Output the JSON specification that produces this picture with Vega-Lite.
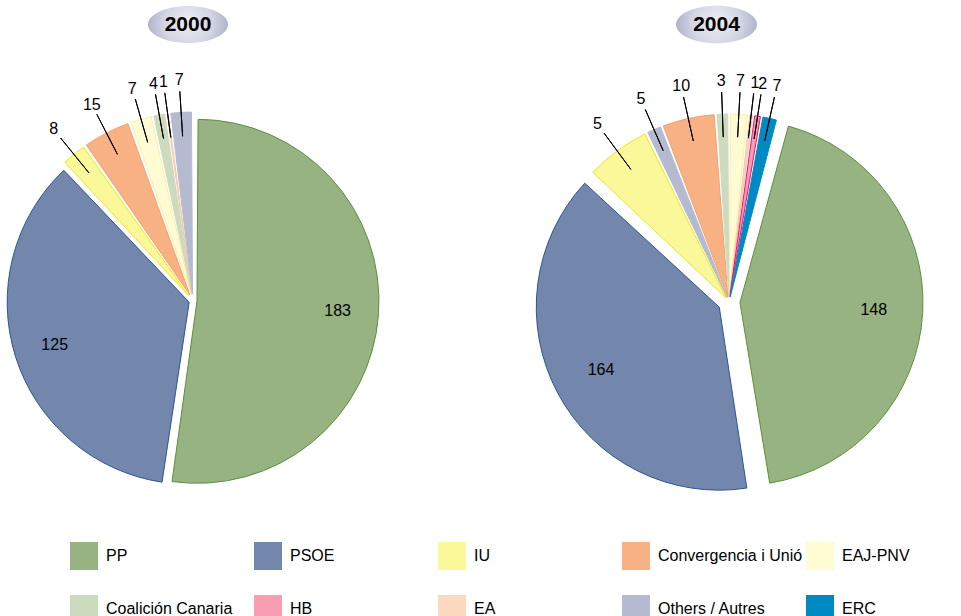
{
  "$schema": "https://vega.github.io/schema/vega-lite/v6.json",
  "padding": 0,
  "background": "white",
  "config": {"view": {"stroke": null}, "font": "Liberation Sans"},
  "datasets": {
    "y2000": [
      {"rank": 1, "party": "PP", "seats": 183},
      {"rank": 2, "party": "PSOE", "seats": 125},
      {"rank": 3, "party": "IU", "seats": 8},
      {"rank": 4, "party": "Convergencia i Unió", "seats": 15},
      {"rank": 5, "party": "EAJ-PNV", "seats": 7},
      {"rank": 6, "party": "Coalición Canaria", "seats": 4},
      {"rank": 7, "party": "EA", "seats": 1},
      {"rank": 8, "party": "Others / Autres", "seats": 7}
    ],
    "y2004": [
      {"rank": 1, "party": "EAJ-PNV", "seats": 7, "share": 6},
      {"rank": 2, "party": "EA", "seats": 1, "share": 1.5},
      {"rank": 3, "party": "HB", "seats": 2, "share": 2.5},
      {"rank": 4, "party": "ERC", "seats": 7, "share": 5},
      {"rank": 5, "party": "PP", "seats": 148, "share": 156},
      {"rank": 6, "party": "PSOE", "seats": 164, "share": 142},
      {"rank": 7, "party": "IU", "seats": 5, "share": 21},
      {"rank": 8, "party": "Others / Autres", "seats": 5, "share": 5},
      {"rank": 9, "party": "Convergencia i Unió", "seats": 10, "share": 17},
      {"rank": 10, "party": "Coalición Canaria", "seats": 3, "share": 4}
    ]
  },
  "hconcat": [
    {
      "vconcat": [
        {
          "width": 376, "height": 49,
          "data": {"values": [{"year": "2000"}]},
          "layer": [
            {"mark": {"type": "point", "shape": "M -1 0 A 1 0.4625 0 1 1 1 0 A 1 0.4625 0 1 1 -1 0 Z", "size": 6400, "filled": true, "opacity": 1, "strokeWidth": 0,
              "fill": {"gradient": "radial", "x1": 0.5, "y1": 0.45, "r1": 0, "x2": 0.5, "y2": 0.5, "r2": 0.55, "stops": [{"offset": 0, "color": "#ecedf3"}, {"offset": 0.55, "color": "#d3d5e3"}, {"offset": 1, "color": "#a6aac6"}]}}},
            {"mark": {"type": "text", "font": "Liberation Sans", "fontWeight": "bold", "fontSize": 21, "color": "black"},
              "encoding": {"text": {"field": "year"}}}
          ]
        },
        {
          "width": 386, "height": 420,
          "data": {"name": "y2000"},
          "encoding": {
            "theta": {"field": "seats", "type": "quantitative", "stack": true, "scale": {"domain": [0, 350]}},
            "order": {"field": "rank", "type": "quantitative"}
          },
          "layer": [
            {"mark": {"type": "arc", "outerRadius": 182, "padAngle": 0.012, "strokeWidth": 1,
              "xOffset": {"expr": "(datum.seats < 50 ? 7 : 4) * sin(PI * (datum.seats_start + datum.seats_end) / 350)"},
              "yOffset": {"expr": "-(datum.seats < 50 ? 7 : 4) * cos(PI * (datum.seats_start + datum.seats_end) / 350)"}},
              "encoding": {
                "fill": {"field": "party", "type": "nominal",
                  "scale": {"domain": ["PP", "PSOE", "IU", "Convergencia i Unió", "EAJ-PNV", "Coalición Canaria", "HB", "EA", "Others / Autres", "ERC"],
                    "range": ["#97b382", "#7386ac", "#fbf89a", "#f8b183", "#fffbd2", "#ccdabe", "#f99db3", "#fdd9bf", "#b4bbd1", "#0089c3"]},
                  "legend": {"orient": "none", "direction": "horizontal", "legendX": 70, "legendY": 542, "title": null, "columns": 5, "gridAlign": "all", "columnPadding": 3, "rowPadding": 25,
                    "symbolType": "square", "symbolSize": 784, "symbolStrokeWidth": 0, "symbolOpacity": 1, "labelFont": "Liberation Sans", "labelFontSize": 16, "labelColor": "black", "labelOffset": 8, "labelLimit": 300}},
                "stroke": {"field": "party", "type": "nominal", "legend": null,
                  "scale": {"domain": ["PP", "PSOE", "IU", "Convergencia i Unió", "EAJ-PNV", "Coalición Canaria", "HB", "EA", "Others / Autres", "ERC"],
                    "range": ["#5e8f3e", "#2f5495", "#f2e61c", "#f3a070", "#f8eeb0", "#ccdabe", "#e6157a", "#f7c7a6", "#b4bbd1", "#0089c3"]}}
              }
            },
            {"mark": {"type": "arc", "innerRadius": {"expr": "datum.seats < 50 ? 165 : 0"}, "outerRadius": {"expr": "datum.seats < 50 ? 210 : 0"}, "padAngle": 3, "filled": false, "stroke": "black", "strokeWidth": 1},
              "encoding": {"strokeOpacity": {"condition": {"test": "datum.seats < 50", "value": 1}, "value": 0}}},
            {"mark": {"type": "text", "radius": {"expr": "datum.seats < 50 ? 221 : 145"}, "font": "Liberation Sans", "fontSize": 16, "color": "black"},
              "encoding": {"text": {"field": "seats", "type": "nominal"}}}
          ]
        }
      ],
      "spacing": 42,
      "bounds": "flush"
    },
    {
      "vconcat": [
        {
          "width": 361, "height": 49,
          "data": {"values": [{"year": "2004"}]},
          "layer": [
            {"mark": {"type": "point", "shape": "M -1 0 A 1 0.4625 0 1 1 1 0 A 1 0.4625 0 1 1 -1 0 Z", "size": 6561, "filled": true, "opacity": 1, "strokeWidth": 0,
              "fill": {"gradient": "radial", "x1": 0.5, "y1": 0.45, "r1": 0, "x2": 0.5, "y2": 0.5, "r2": 0.55, "stops": [{"offset": 0, "color": "#ecedf3"}, {"offset": 0.55, "color": "#d3d5e3"}, {"offset": 1, "color": "#a6aac6"}]}}},
            {"mark": {"type": "text", "font": "Liberation Sans", "fontWeight": "bold", "fontSize": 21, "color": "black"},
              "encoding": {"text": {"field": "year"}}}
          ]
        },
        {
          "width": 386, "height": 422,
          "data": {"name": "y2004"},
          "encoding": {
            "theta": {"field": "share", "type": "quantitative", "stack": true, "scale": {"domain": [0, 360]}},
            "order": {"field": "rank", "type": "quantitative"}
          },
          "layer": [
            {"mark": {"type": "arc", "outerRadius": 183, "padAngle": 0.012, "strokeWidth": 1,
              "xOffset": {"expr": "(datum.seats < 50 ? 5 : 11) * sin(PI * (datum.share_start + datum.share_end) / 360)"},
              "yOffset": {"expr": "-(datum.seats < 50 ? 5 : 11) * cos(PI * (datum.share_start + datum.share_end) / 360)"}},
              "encoding": {
                "fill": {"field": "party", "type": "nominal",
                  "scale": {"domain": ["PP", "PSOE", "IU", "Convergencia i Unió", "EAJ-PNV", "Coalición Canaria", "HB", "EA", "Others / Autres", "ERC"],
                    "range": ["#97b382", "#7386ac", "#fbf89a", "#f8b183", "#fffbd2", "#ccdabe", "#f99db3", "#fdd9bf", "#b4bbd1", "#0089c3"]}},
                "stroke": {"field": "party", "type": "nominal", "legend": null,
                  "scale": {"domain": ["PP", "PSOE", "IU", "Convergencia i Unió", "EAJ-PNV", "Coalición Canaria", "HB", "EA", "Others / Autres", "ERC"],
                    "range": ["#5e8f3e", "#2f5495", "#f2e61c", "#f3a070", "#f8eeb0", "#ccdabe", "#e6157a", "#f7c7a6", "#b4bbd1", "#0089c3"]}}
              }
            },
            {"mark": {"type": "arc", "innerRadius": {"expr": "datum.seats < 50 ? 165 : 0"}, "outerRadius": {"expr": "datum.seats < 50 ? 210 : 0"}, "padAngle": 3, "filled": false, "stroke": "black", "strokeWidth": 1},
              "encoding": {"strokeOpacity": {"condition": {"test": "datum.seats < 50", "value": 1}, "value": 0}}},
            {"mark": {"type": "text", "radius": {"expr": "datum.seats < 50 ? 221 : 145"}, "font": "Liberation Sans", "fontSize": 16, "color": "black"},
              "encoding": {"text": {"field": "seats", "type": "nominal"}}}
          ]
        }
      ],
      "spacing": 42,
      "bounds": "flush"
    }
  ],
  "spacing": 148,
  "bounds": "full",
  "resolve": {"scale": {"theta": "independent"}}
}
